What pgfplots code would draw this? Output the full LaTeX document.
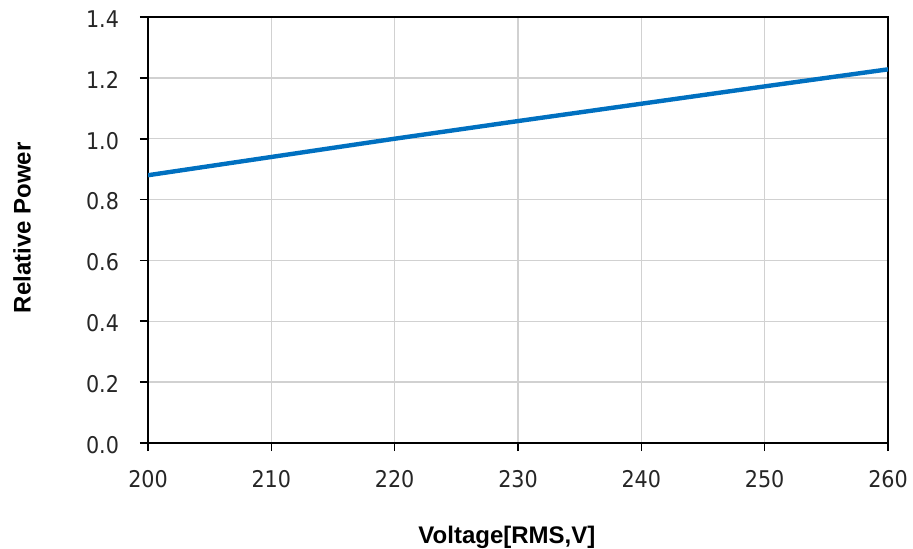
\documentclass[border=0pt]{standalone}
\usepackage{pgfplots}
\pgfplotsset{compat=1.18}
\usepackage{fontspec}
\setmainfont{DejaVu Sans Condensed}
\newfontfamily\arialfont{Liberation Sans}
\definecolor{lineblue}{RGB}{0,112,192}
\begin{document}
\begin{tikzpicture}[x=1pt,y=1pt]
\path[use as bounding box] (-74,-52.5) rectangle (382.5,221.5);
\begin{axis}[
  at={(0,0)}, anchor=south west,
  scale only axis, width=370pt, height=213pt,
  xmin=200, xmax=260, ymin=0, ymax=1.4,
  xtick={200,210,...,260},
  ytick={0,0.2,...,1.4},
  xtick pos=bottom, ytick pos=left,
  /pgf/number format/assume math mode=true,
  yticklabel style={/pgf/number format/fixed, /pgf/number format/fixed zerofill, /pgf/number format/precision=1, xshift=-7pt, yshift=-1pt},
  ticklabel style={font=\fontsize{11.5}{13}\selectfont, text=black!85},
  tick align=outside,
  major tick length=4pt,
  tick style={black, line width=0.8pt},
  grid=major,
  grid style={black!18, line width=0.7pt},
  axis line style={black, line width=1pt},
  xlabel={\arialfont\bfseries Voltage[RMS,V]},
  ylabel={\arialfont\bfseries Relative Power},
  label style={font=\fontsize{12}{14}\selectfont},
  xlabel style={at={(axis description cs:0.485,0)}, anchor=north, yshift=-38pt},
  ylabel style={at={(axis description cs:0,0.505)}, anchor=south, yshift=55pt},
  xticklabel style={yshift=-6pt},
]
\addplot[lineblue, line width=2.2pt] coordinates {
(200,0.880) (210,0.940) (220,1.000) (230,1.058) (240,1.115) (250,1.172) (260,1.228)
};
\end{axis}
\end{tikzpicture}
\end{document}
